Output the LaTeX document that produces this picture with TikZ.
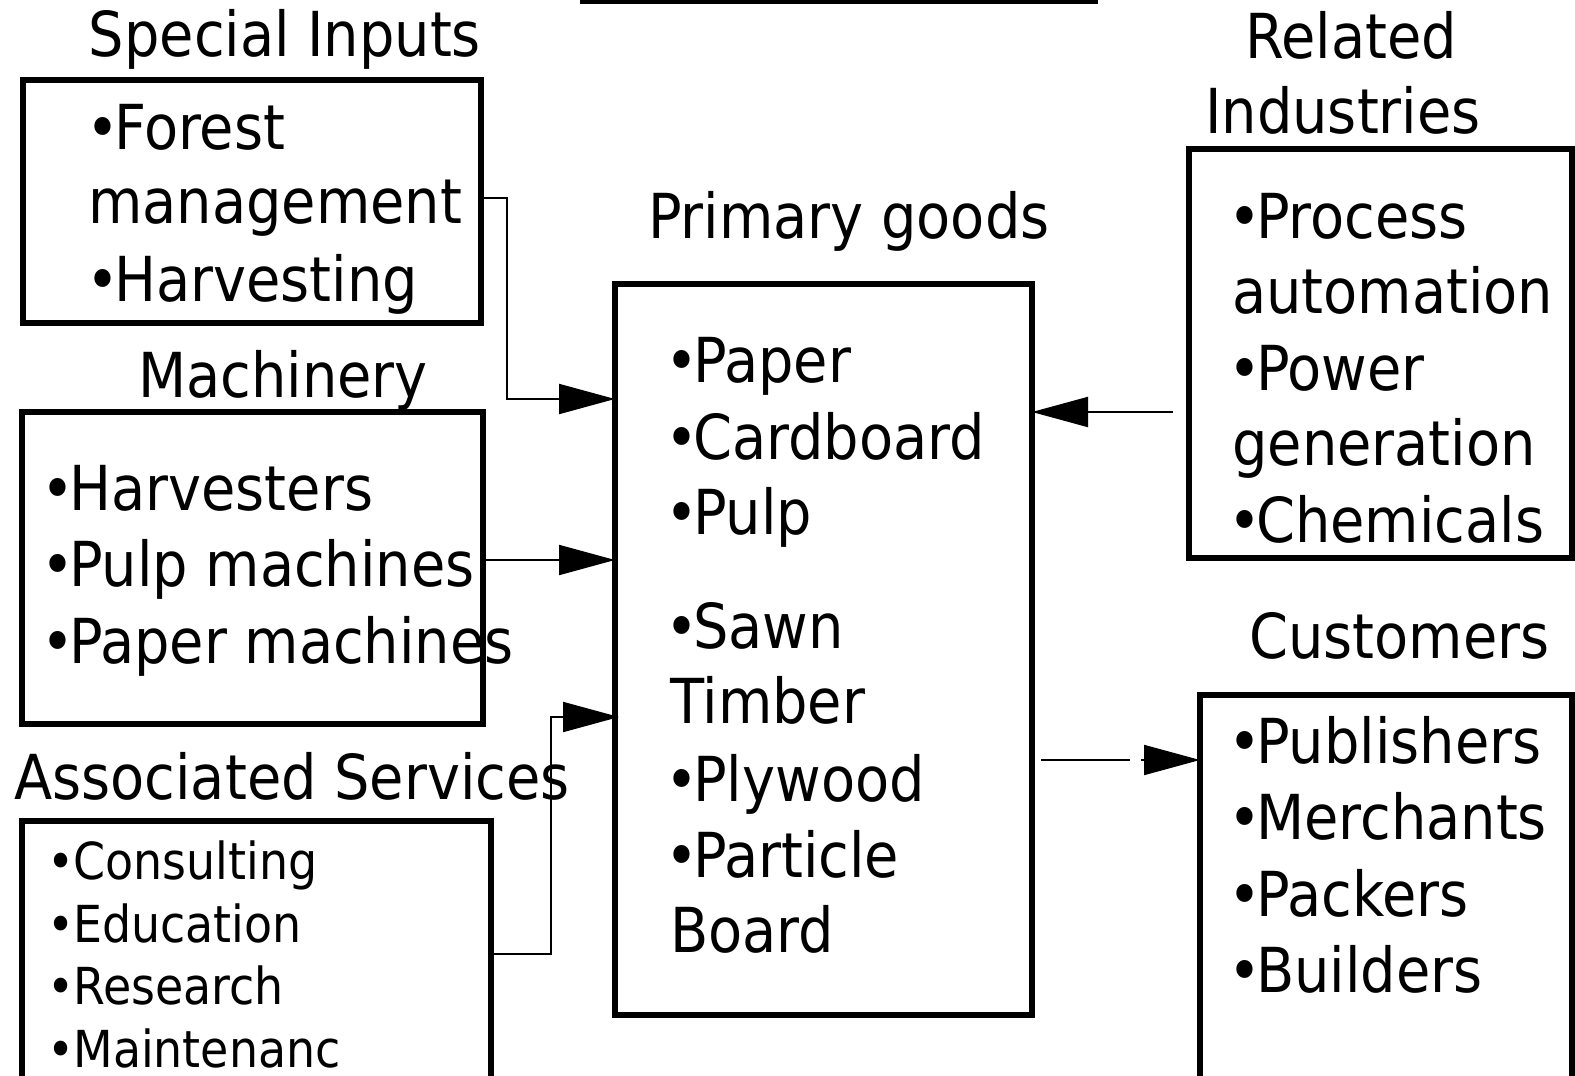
\documentclass[tikz,border=0pt]{standalone}
\usepackage{fontspec}
\setmainfont{DejaVu Sans Condensed}
\usetikzlibrary{arrows.meta}
\newcommand\bul{•\kern-0.08em}
\newcommand\sbul{•\kern-0.02em}
\begin{document}
\begin{tikzpicture}[x=0.5pt,y=-0.5pt,
  box/.style={draw, line width=3pt, inner sep=0pt, outer sep=0pt, anchor=north west},
  txt/.style={anchor=base west, inner sep=0pt, font=\fontsize{31}{38}\selectfont},
  ttl/.style={anchor=base, inner sep=0pt, font=\fontsize{31}{38}\selectfont},
  stxt/.style={anchor=base west, inner sep=0pt, font=\fontsize{25.5}{31}\selectfont},
  conn/.style={line width=1pt},
  tip/.style={-{Triangle[length=28pt,width=15pt]}}]
\useasboundingbox (0,0) rectangle (1575,1076);
% top bar
\fill (580,0) rectangle (1098,4);
% boxes
\node[box, minimum width=229pt, minimum height=121.5pt] (si) at (23,80) {};
\node[box, minimum width=230.5pt, minimum height=156pt] (mach) at (22,412) {};
\node[box, minimum width=234.5pt, minimum height=140pt] (as) at (22,821) {};
\node[box, minimum width=208.5pt, minimum height=365.5pt] (prim) at (615,284) {};
\node[box, minimum width=191.5pt, minimum height=204.5pt] (rel) at (1189,149) {};
\node[box, minimum width=186pt, minimum height=200pt] (cust) at (1200,695) {};
% titles
\node[ttl] (tsi) at (285,56) {Special Inputs};
\node[ttl] (tmach) at (283,397) {Machinery};
\node[txt] (tas) at (14,799) {Associated Services};
\node[ttl] (tprim) at (849,238) {Primary goods};
\node[ttl] (trel1) at (1351,58) {Related};
\node[txt] (trel2) at (1205,133) {Industries};
\node[txt] (tcust) at (1249,658) {Customers};
% special inputs
\node[txt] (si1) at (86,149) {\bul Forest};
\node[txt] (si2) at (88,223) {management};
\node[txt] (si3) at (86,301) {\bul Harvesting};
% machinery
\node[txt] (m1) at (41,510) {\bul Harvesters};
\node[txt] (m2) at (41,586) {\bul Pulp machines};
\node[txt] (m3) at (41,663) {\bul Paper machines};
% associated services
\node[stxt] (a1) at (47,879) {\sbul Consulting};
\node[stxt] (a2) at (47,942) {\sbul Education};
\node[stxt] (a3) at (47,1004) {\sbul Research};
\node[stxt] (a4) at (47,1067) {\sbul Maintenanc};
% primary goods
\node[txt] (p1) at (665,382) {\bul Paper};
\node[txt] (p2) at (665,459) {\bul Cardboard};
\node[txt] (p3) at (665,534) {\bul Pulp};
\node[txt] (p4) at (665,648) {\bul Sawn};
\node[txt] (p5) at (670,723) {Timber};
\node[txt] (p6) at (665,801) {\bul Plywood};
\node[txt] (p7) at (665,877) {\bul Particle};
\node[txt] (p8) at (670,952) {Board};
% related industries
\node[txt] (r1) at (1228,238) {\bul Process};
\node[txt] (r2) at (1232,313) {automation};
\node[txt] (r3) at (1228,390) {\bul Power};
\node[txt] (r4) at (1232,465) {generation};
\node[txt] (r5) at (1228,542) {\bul Chemicals};
% customers
\node[txt] (c1) at (1228,763) {\bul Publishers};
\node[txt] (c2) at (1228,839) {\bul Merchants};
\node[txt] (c3) at (1228,916) {\bul Packers};
\node[txt] (c4) at (1228,992) {\bul Builders};
% connectors
\draw[conn, tip] (si.east |- 0,198) -| (507,399) -- (prim.west |- 0,399);
\draw[conn, tip] (mach.east |- 0,560) -- (prim.west |- 0,560);
\draw[conn, tip] (as.east |- 0,954) -| (551,717) -- ([xshift=2pt]prim.west |- 0,717);
\draw[conn, tip, shorten <=8pt] (rel.west |- 0,412) -- (prim.east |- 0,412);
\coordinate (cgap) at (1141,760);
\draw[conn] ([xshift=4.5pt]prim.east |- 0,760) -- (1130,760);
\draw[conn, tip] (cgap) -- (cust.west |- 0,760);
\end{tikzpicture}
\end{document}
